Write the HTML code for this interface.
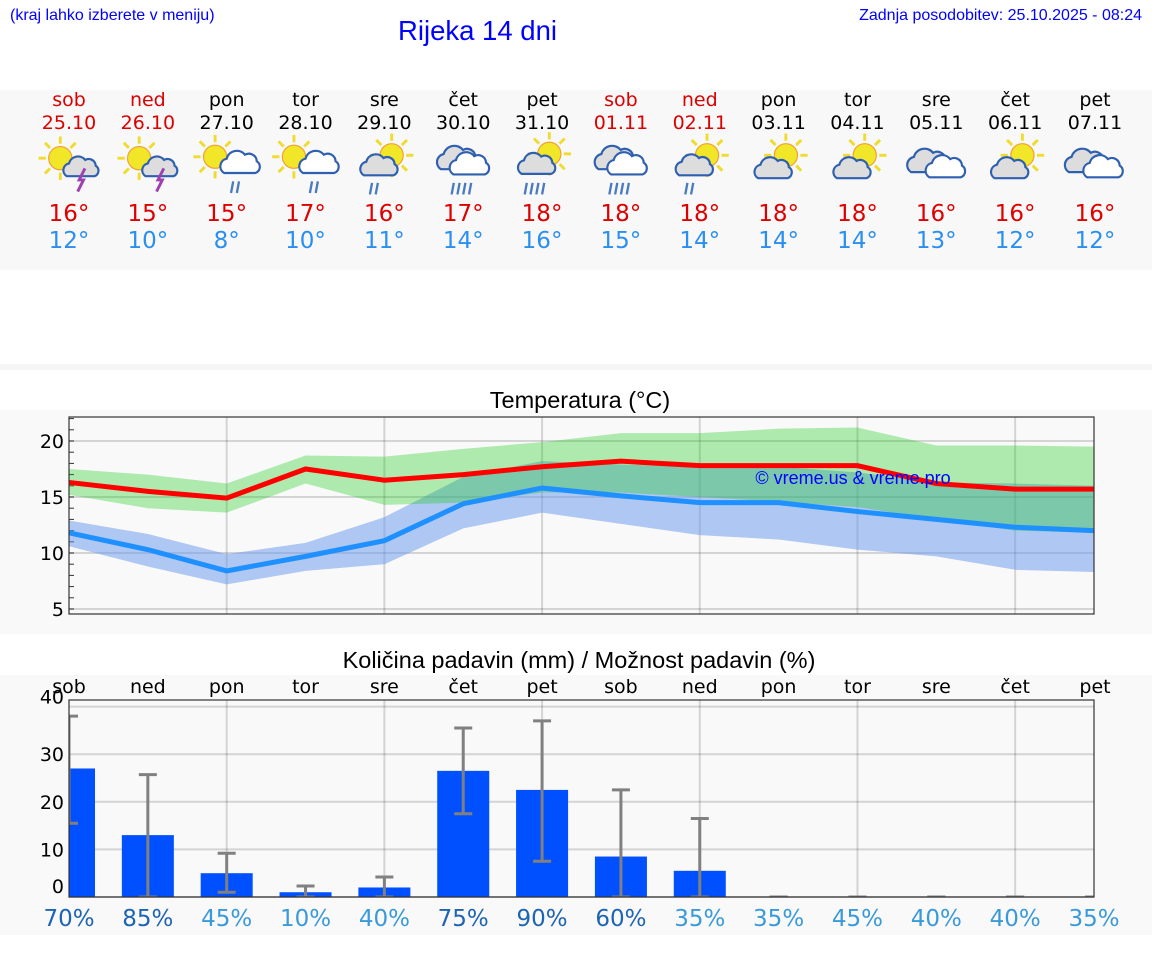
<!DOCTYPE html>
<html><head><meta charset="utf-8">
<style>
body{margin:0;width:1152px;height:975px;background:#fff;position:relative;font-family:"DejaVu Sans","Liberation Sans",sans-serif;overflow:hidden}
.abs{position:absolute}
.hdr{position:absolute;top:90px;left:0;width:1152px;height:180px;background:#f8f8f8}
.col{position:absolute;width:80px;text-align:center}
</style></head><body>
<div class="abs" style="left:10px;top:7px;font:16px 'Liberation Sans',sans-serif;color:#00f">(kraj lahko izberete v meniju)</div>
<div class="abs" style="left:398px;top:15px;font:27.5px 'Liberation Sans',sans-serif;color:#00f">Rijeka 14 dni</div>
<div class="abs" style="right:10px;top:7px;font:16px 'Liberation Sans',sans-serif;color:#00f">Zadnja posodobitev: 25.10.2025 - 08:24</div>
<div class="hdr"></div>
<div id="cols"></div>
<div class="abs" style="left:0;top:364px;width:1152px;height:6px;background:#f6f6f6"></div>
<div class="abs" style="left:0;top:410px;width:1152px;height:224px;background:#f9f9f9"></div>
<div class="abs" style="left:0;top:675px;width:1152px;height:260px;background:#f9f9f9"></div>
<svg id="chart" class="abs" style="left:0;top:0" width="1152" height="975" font-family="DejaVu Sans, Liberation Sans, sans-serif"></svg>
<script>
const days=["sob","ned","pon","tor","sre","čet","pet","sob","ned","pon","tor","sre","čet","pet"];
const dates=["25.10","26.10","27.10","28.10","29.10","30.10","31.10","01.11","02.11","03.11","04.11","05.11","06.11","07.11"];
const weekend=[1,1,0,0,0,0,0,1,1,0,0,0,0,0];
const icons=["storm","storm","sunrain","sunrain","greyrain","rain","sungreyrain","rain","greyrain","suncloud","suncloud","cloud","suncloud","cloud"];
const tmax=[16,15,15,17,16,17,18,18,18,18,18,16,16,16];
const tmin=[12,10,8,10,11,14,16,15,14,14,14,13,12,12];
const maxLine=[16.3,15.5,14.9,17.5,16.5,17.0,17.7,18.2,17.8,17.8,17.8,16.2,15.7,15.7];
const maxHi=[17.5,17.0,16.2,18.7,18.6,19.3,19.9,20.7,20.7,21.1,21.2,19.6,19.6,19.5];
const maxLo=[15.2,14.0,13.6,16.2,14.3,14.5,15.4,15.4,15.0,14.6,14.1,13.0,12.0,11.8];
const minLine=[11.8,10.3,8.4,9.7,11.1,14.4,15.8,15.1,14.5,14.5,13.7,13.0,12.3,12.0];
const minHi=[12.9,11.7,9.9,10.9,13.2,16.8,18.2,17.9,17.7,17.7,17.2,16.3,16.2,16.0];
const minLo=[10.6,8.8,7.2,8.4,9.0,12.2,13.6,12.6,11.6,11.2,10.3,9.7,8.5,8.3];
const tTicks=[5,10,15,20];
const precip=[27,13,5,1,2,26.5,22.5,8.5,5.5,0,0,0,0,0];
const errLo=[15.5,0,1,0,0,17.5,7.5,0,0,0,0,0,0,0];
const errHi=[38,25.7,9.2,2.3,4.2,35.5,37,22.5,16.5,0,0,0,0,0];
const prob=[70,85,45,10,40,75,90,60,35,35,45,40,40,35];
const pTicks=[0,10,20,30,40];

const NS="http://www.w3.org/2000/svg";
const svg=document.getElementById('chart');
function el(tag,attrs,parent){const e=document.createElementNS(NS,tag);for(const k in attrs)e.setAttribute(k,attrs[k]);(parent||svg).appendChild(e);return e;}
const X=i=>69+i*(1094-69)/13;
const TY=v=>553-(v-10)*11.2;
const PY=v=>897-v*4.76;

const cols=document.getElementById('cols');
days.forEach((d,i)=>{
  const c=document.createElement('div');c.className='col';c.style.left=(X(i)-40+(i==13?1:0))+'px';c.style.top='89px';
  
  
  const col=weekend[i]?'#d00':'#000';
  c.innerHTML=`<div style="font-size:19px;color:${col};line-height:23px">${d}</div><div style="font-size:19px;color:${col};line-height:22px">${dates[i]}</div>
  <div style="height:66px"></div><div style="font-size:23px;color:#d00;line-height:28px">${tmax[i]}°</div><div style="font-size:23px;color:#2a8ff0;line-height:26px">${tmin[i]}°</div>`;
  cols.appendChild(c);
  const g=el('g',{transform:`translate(${X(i)},164) scale(1.45)`});
  
  
  const t=icons[i];
  function sun(cx,cy,r){for(let a=0;a<8;a++){const an=a*Math.PI/4;el('line',{x1:cx+Math.cos(an)*(r+2),y1:cy+Math.sin(an)*(r+2),x2:cx+Math.cos(an)*(r+7),y2:cy+Math.sin(an)*(r+7),stroke:'#f0dc30','stroke-width':2},g);}el('circle',{cx,cy,r,fill:'#f2e628',stroke:'#f0a030','stroke-width':0.8},g);}
  function cloud(cx,cy,s,fill){const p=`M${cx-12*s},${cy+8*s} a${6*s},${6*s} 0 0 1 ${2*s},${-11*s} a${8*s},${8*s} 0 0 1 ${14*s},${-3*s} a${6*s},${6*s} 0 0 1 ${9*s},${5*s} a${5*s},${5*s} 0 0 1 ${-1*s},${9*s} z`;el('path',{d:p,fill,stroke:'#2e5fb0','stroke-width':1.5},g);}
  function rain(cx,cy,n){for(let k=0;k<n;k++)el('line',{x1:cx+k*4+1.5,y1:cy,x2:cx+k*4,y2:cy+8,stroke:'#4a7ac0','stroke-width':1.6},g);}
  if(t=='storm'){sun(-6,-4,8);cloud(8,2,0.8,'#ddd');el('path',{d:'M11,3 L7,11 L10,11 L6,19',stroke:'#a040b0','stroke-width':2,fill:'none'},g);}
  if(t=='sunrain'){sun(-8,-5,8);cloud(9,-1,0.9,'#fff');rain(3,12,2);}
  if(t=='greyrain'){sun(5,-6,8);cloud(-4,1,0.85,'#ddd');rain(-10,13,2);}
  if(t=='sungreyrain'){sun(5,-7,8);cloud(-4,0,0.85,'#ddd');rain(-12,13,4);}
  if(t=='rain'){cloud(-4,-4,0.95,'#ddd');cloud(4,0,0.9,'#fff');rain(-8,13,4);}
  if(t=='suncloud'){sun(5,-6,8);cloud(-4,3,0.85,'#ddd');}
  if(t=='cloud'){cloud(-6,-2,0.95,'#ddd');cloud(6,2,0.9,'#fff');}
});

el('text',{x:580,y:408,'text-anchor':'middle','font-size':23.5,fill:'#000','font-family':'Liberation Sans, sans-serif'}).textContent='Temperatura (°C)';
const tg=el('g',{});
el('rect',{x:69,y:417,width:1025,height:197,fill:'#f9f9f9'},tg);
tTicks.forEach(v=>{el('line',{x1:69,x2:1094,y1:TY(v),y2:TY(v),stroke:'#000','stroke-opacity':0.15,'stroke-width':2},tg);
 const tx=el('text',{x:64,y:TY(v)+7,'text-anchor':'end','font-size':19,fill:'#000'},tg);tx.textContent=v;});
for(let v=5;v<=22;v++)el('line',{x1:69,x2:74,y1:TY(v),y2:TY(v),stroke:'#333','stroke-width':1},tg);
for(let i=2;i<13;i+=2)el('line',{x1:X(i),x2:X(i),y1:417,y2:614,stroke:'#000','stroke-opacity':0.15,'stroke-width':2},tg);
function band(hi,lo,fill,name){let d='M'+hi.map((v,i)=>X(i)+','+TY(v)).join(' L')+' L'+lo.map((v,i)=>X(i)+','+TY(v)).reverse().join(' L')+'Z';const p=el('path',{d,fill},tg);}
band(minHi,minLo,'rgba(100,149,237,0.5)','min-temp-range');
band(maxHi,maxLo,'rgba(15,202,15,0.32)','max-temp-range');
function line(vals,col,name){const p=el('polyline',{points:vals.map((v,i)=>X(i)+','+TY(v)).join(' '),fill:'none',stroke:col,'stroke-width':5},tg);}
line(minLine,'#1e90ff','min-temp-line');
line(maxLine,'#ff0000','max-temp-line');
el('text',{x:853,y:484,'text-anchor':'middle','font-size':18,fill:'#00f','font-family':'Liberation Sans, sans-serif'},tg).textContent='© vreme.us & vreme.pro';
el('rect',{x:69,y:417,width:1025,height:197,fill:'none',stroke:'#333','stroke-width':1.2},tg);

el('text',{x:579,y:668,'text-anchor':'middle','font-size':23.5,fill:'#000','font-family':'Liberation Sans, sans-serif'}).textContent='Količina padavin (mm) / Možnost padavin (%)';
const pg=el('g',{});
pTicks.forEach(v=>{el('line',{x1:69,x2:1094,y1:PY(v),y2:PY(v),stroke:'#000','stroke-opacity':0.15,'stroke-width':2},pg);
 const tx=el('text',{x:64,y:PY(v)+(v==0?-4:(v==40?-3:7)),'text-anchor':'end','font-size':19,fill:'#000'},pg);tx.textContent=v;});
for(let i=2;i<13;i+=2)el('line',{x1:X(i),x2:X(i),y1:700,y2:897,stroke:'#000','stroke-opacity':0.15,'stroke-width':2},pg);
const cp=el('clipPath',{id:'pc'},pg);
el('rect',{x:69,y:700,width:1025,height:197},cp);
const bg=el('g',{'clip-path':'url(#pc)'},pg);
precip.forEach((v,i)=>{
  if(v>0){const b=el('rect',{x:X(i)-26,y:PY(v),width:52,height:897-PY(v),fill:'#0050ff'},bg);}
  const eg=el('g',{stroke:'#808080','stroke-width':3},bg);
  el('line',{x1:X(i),x2:X(i),y1:PY(errLo[i]),y2:PY(errHi[i])},eg);
  el('line',{x1:X(i)-9,x2:X(i)+9,y1:PY(errLo[i]),y2:PY(errLo[i])},eg);
  el('line',{x1:X(i)-9,x2:X(i)+9,y1:PY(errHi[i]),y2:PY(errHi[i])},eg);
  const d=el('text',{x:X(i)+(i==13?1:0),y:693,'text-anchor':'middle','font-size':19,fill:'#000'},pg);d.textContent=days[i];
  const pt=el('text',{x:X(i),y:926,'text-anchor':'middle','font-size':23,fill:prob[i]>=60?'#1e64b4':'#3a9ad9'},pg);pt.textContent=prob[i]+'%';
});
el('rect',{x:69,y:700,width:1025,height:197,fill:'none',stroke:'#333','stroke-width':1.2},pg);
</script>
</body></html>
